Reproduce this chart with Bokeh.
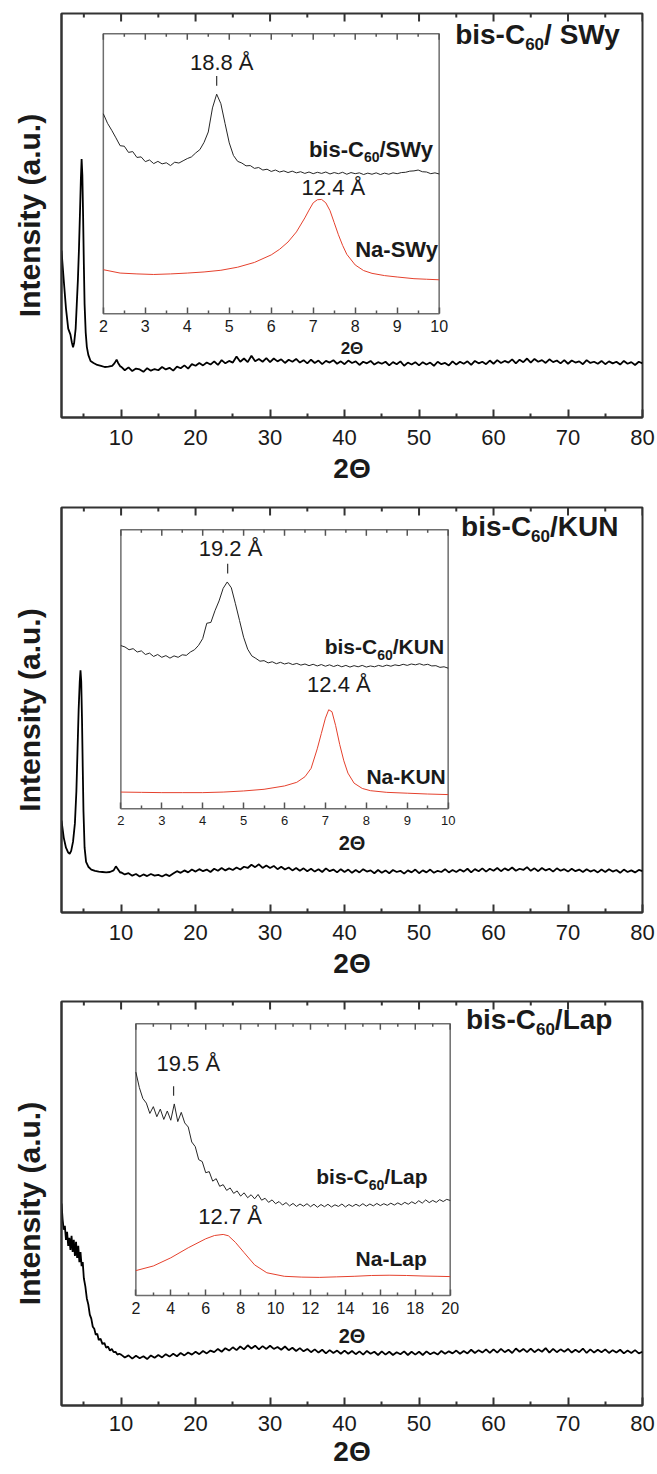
import numpy as np
from bokeh.plotting import figure
from bokeh.models import Range1d, LinearAxis, FixedTicker, Label
from bokeh.layouts import column
from bokeh.embed import file_html
from bokeh.resources import INLINE

FONT = "Liberation Sans"
INK = "#1a1a1a"
FRAME = "#333333"
RED = "#e5412d"

# ---------------- data ----------------
MAIN_TICKS = [10, 20, 30, 40, 50, 60, 70, 80]
MAIN_MINOR = [5, 15, 25, 35, 45, 55, 65, 75]
BASE_X = np.round(np.arange(10.0, 80.001, 0.5), 2)

# panel 1 : bis-C60 / SWy (main pattern)
SWY_LOW_X = [2.0, 2.3, 2.6, 2.9, 3.2, 3.4, 3.55, 3.7, 3.9, 4.05, 4.2, 4.35, 4.5, 4.6, 4.7, 4.8, 4.9,
             5.0, 5.1, 5.25, 5.4, 5.6, 5.9, 6.3, 6.8, 7.3, 7.8, 8.3, 8.8, 9.1, 9.4, 9.6, 9.9]
SWY_LOW_Y = [41.3, 34.0, 27.0, 22.0, 20.5, 18.5, 17.4, 18.5, 22.0, 28.0, 34.0, 42.0, 52.0, 59.0, 64.0, 60.0, 50.0,
             38.0, 28.0, 21.0, 17.5, 15.5, 14.0, 13.5, 13.0, 12.8, 12.5, 12.6, 12.8, 13.4, 14.3, 13.5, 12.6]
SWY_BASE_Y = [12.6, 11.7, 12.4, 11.5, 12.1, 11.9, 11.3, 12.2, 11.6, 12.0,
              11.7, 12.5, 11.9, 12.3, 11.6, 12.6, 12.2, 12.9, 12.1, 13.2,
              12.8, 13.5, 12.9, 13.6, 13.1, 13.9, 13.0, 14.2, 13.4, 14.0,
              13.6, 15.1, 13.8, 14.6, 13.7, 15.3, 13.9, 14.5, 13.8, 14.7,
              13.7, 14.6, 13.9, 14.4, 13.5, 14.3, 13.8, 14.5, 13.6, 14.2,
              13.4, 14.3, 13.5, 14.1, 13.2, 14.0, 13.6, 14.2, 13.3, 13.9,
              13.2, 14.1, 13.5, 13.9, 13.0, 13.8, 13.4, 14.0, 13.1, 13.7,
              13.3, 13.8, 12.9, 13.7, 13.2, 13.9, 12.8, 13.6, 13.1, 13.7,
              12.9, 13.7, 13.1, 13.6, 12.8, 13.8, 13.2, 13.5, 12.9, 13.9,
              13.1, 13.8, 13.3, 13.9, 13.0, 14.0, 13.4, 13.8, 13.2, 14.1,
              13.3, 14.2, 13.5, 14.0, 13.6, 14.4, 13.4, 14.3, 13.7, 14.6,
              13.6, 14.5, 13.8, 14.2, 13.5, 14.4, 13.7, 14.1, 13.4, 14.2,
              13.3, 14.1, 13.6, 13.9, 13.2, 14.2, 13.5, 13.8, 13.3, 14.0,
              13.2, 13.9, 13.4, 13.8, 13.1, 14.0, 13.3, 13.7, 13.0, 13.8,
              13.4]

# panel 2 : bis-C60 / KUN
KUN_LOW_X = [2.0, 2.3, 2.6, 2.9, 3.1, 3.3, 3.55, 3.8, 4.0, 4.15, 4.3, 4.45, 4.55, 4.65, 4.75,
             4.85, 4.95, 5.1, 5.3, 5.6, 6.0, 6.5, 7.0, 7.5, 8.0, 8.5, 9.0, 9.3, 9.6, 9.9]
KUN_LOW_Y = [22.7, 18.5, 16.0, 14.8, 14.5, 15.2, 17.5, 22.0, 30.0, 40.0, 50.0, 57.0, 59.8, 57.0, 48.0,
             36.0, 25.0, 16.0, 12.5, 11.3, 10.6, 10.3, 10.1, 10.0, 9.9, 10.0, 10.4, 11.4, 10.6, 9.8]
KUN_BASE_Y = [9.9, 9.4, 9.7, 9.1, 9.5, 8.9, 9.4, 9.0, 9.5, 9.1,
              9.3, 8.9, 9.4, 9.0, 9.6, 10.2, 9.8, 10.4, 9.9, 10.6,
              10.1, 10.7, 10.2, 10.6, 10.0, 10.8, 10.3, 11.0, 10.4, 10.9,
              10.5, 11.1, 10.6, 11.3, 11.0, 11.8, 11.2, 11.9, 11.0, 11.6,
              11.0, 11.5, 10.7, 11.3, 10.6, 11.1, 10.4, 11.0, 10.3, 10.9,
              10.2, 10.8, 10.1, 10.7, 10.0, 10.9, 10.2, 10.6, 9.9, 10.7,
              10.0, 10.6, 9.8, 10.5, 9.9, 10.7, 10.1, 10.4, 9.7, 10.5,
              9.8, 10.4, 9.7, 10.5, 10.0, 10.3, 9.6, 10.4, 9.9, 10.6,
              9.7, 10.4, 9.9, 10.6, 9.8, 10.3, 10.0, 10.7, 9.9, 10.5,
              10.0, 10.6, 10.1, 10.8, 9.9, 10.7, 10.2, 10.9, 10.1, 10.8,
              10.3, 11.0, 10.2, 10.9, 10.4, 11.1, 10.3, 10.8, 10.5, 11.2,
              10.3, 10.9, 10.2, 11.0, 10.4, 10.8, 10.1, 10.9, 10.3, 10.7,
              10.1, 10.8, 10.2, 10.6, 10.0, 10.7, 10.1, 10.5, 9.9, 10.6,
              10.0, 10.7, 10.1, 10.5, 9.8, 10.6, 10.0, 10.4, 9.9, 10.5,
              10.2]

# panel 3 : bis-C60 / Lap
LAP_LOW_X = [2.0, 2.15, 2.3, 2.45, 2.6, 2.75, 2.9, 3.05, 3.2, 3.35, 3.5, 3.65, 3.8, 3.95, 4.1, 4.25,
             4.4, 4.55, 4.7, 4.85, 5.0, 5.2, 5.4, 5.6, 5.8, 6.0, 6.2, 6.4, 6.6, 6.8, 7.0, 7.25, 7.5,
             7.75, 8.0, 8.25, 8.5, 8.75, 9.0, 9.25, 9.5, 9.75]
LAP_LOW_Y = [50.0, 46.0, 43.5, 44.5, 41.0, 43.0, 39.5, 41.5, 38.5, 42.0, 38.0, 41.0, 37.0, 40.5, 36.5, 39.5,
             35.5, 38.0, 34.5, 35.5, 31.5, 29.5, 26.5, 25.0, 22.5, 21.5, 19.5, 19.0, 17.5, 17.8, 16.2, 16.5, 15.2,
             15.5, 14.3, 14.6, 13.6, 14.0, 13.2, 13.3, 12.6, 12.8]
LAP_BASE_Y = [12.6, 11.9, 12.4, 11.6, 12.3, 11.7, 12.2, 11.5, 12.4, 11.8,
              12.5, 11.9, 12.7, 12.1, 12.8, 12.2, 13.0, 12.4, 13.1, 12.6,
              13.3, 12.7, 13.5, 12.9, 13.6, 13.2, 14.0, 13.3, 14.2, 13.6,
              14.4, 13.7, 14.6, 13.9, 14.9, 14.1, 14.8, 13.9, 14.7, 14.0,
              14.8, 14.0, 14.5, 13.8, 14.6, 13.7, 14.3, 13.5, 14.2, 13.4,
              14.0, 13.2, 13.9, 13.1, 13.8, 12.9, 13.7, 13.0, 13.6, 12.8,
              13.6, 12.8, 13.5, 12.7, 13.4, 12.6, 13.5, 12.8, 13.3, 12.5,
              13.4, 12.6, 13.3, 12.5, 13.2, 12.7, 13.4, 12.5, 13.3, 12.6,
              13.3, 12.5, 13.4, 12.7, 13.2, 12.6, 13.5, 12.8, 13.4, 12.9,
              13.6, 12.8, 13.5, 12.9, 13.8, 13.0, 13.7, 13.1, 13.9, 13.0,
              13.9, 13.1, 14.0, 13.2, 13.8, 13.0, 14.1, 13.3, 14.0, 13.2,
              14.1, 13.2, 13.9, 13.3, 14.2, 13.1, 14.0, 13.2, 13.9, 13.3,
              14.0, 13.1, 13.8, 13.2, 14.1, 13.0, 13.9, 13.1, 13.8, 13.2,
              13.9, 13.0, 13.7, 13.1, 13.8, 12.9, 13.6, 13.0, 13.7, 12.9,
              13.3]

# insets (low-angle region)
INSET_X_10 = np.round(np.arange(2.0, 10.001, 0.1), 2)
INSET_X_20 = np.round(np.arange(2.0, 20.001, 0.2), 2)

SWY_BIS_Y = [71.4, 68.0, 65.5, 62.8, 60.0, 59.8, 57.6, 57.9, 55.8, 56.0,
             54.3, 54.9, 53.6, 54.4, 53.5, 53.9, 52.9, 54.1, 53.8, 54.6,
             55.4, 56.0, 57.4, 58.6, 61.2, 64.9, 73.5, 78.4, 75.0, 67.9,
             61.0, 56.5, 54.4, 53.8, 52.8, 52.9, 51.9, 52.2, 51.3, 51.6,
             50.8, 51.3, 50.6, 51.0, 50.4, 50.9, 50.3, 50.7, 50.1, 50.6,
             50.0, 50.5, 50.1, 50.6, 49.9, 50.4, 50.0, 50.5, 49.8, 50.4,
             50.0, 50.3, 49.7, 50.2, 49.8, 50.3, 49.7, 50.2, 49.8, 50.3,
             50.0, 50.4, 50.5, 50.9, 51.0, 51.3, 50.7, 50.6, 50.0, 50.3,
             49.9]
SWY_NA_X = [2.0, 2.4, 2.8, 3.2, 3.6, 4.0, 4.4, 4.8, 5.2, 5.6, 6.0, 6.2, 6.4, 6.6, 6.8, 6.9, 7.0, 7.1,
            7.2, 7.3, 7.4, 7.5, 7.6, 7.7, 7.8, 8.0, 8.2, 8.4, 8.7, 9.0, 9.4, 9.7, 10.0]
SWY_NA_Y = [15.7, 14.5, 14.2, 14.0, 14.2, 14.5, 14.9, 15.5, 16.6, 18.3, 21.0, 23.0, 25.6, 29.2, 34.2, 37.0, 39.6, 40.7,
            40.8, 39.6, 36.8, 32.5, 28.2, 24.4, 21.2, 17.4, 15.4, 14.4, 13.6, 13.1, 12.5, 12.3, 12.1]

KUN_BIS_Y = [58.5, 58.0, 57.0, 57.4, 56.2, 56.6, 55.3, 55.8, 54.6, 55.3,
             54.3, 54.9, 54.0, 54.8, 54.3, 55.2, 55.0, 56.2, 57.0, 58.6,
             61.0, 66.5, 66.8, 71.0, 74.5, 79.0, 81.3, 79.2, 73.5, 67.5,
             61.5, 57.2, 54.8, 53.9, 52.9, 53.1, 52.3, 52.7, 52.0, 52.5,
             51.9, 52.3, 51.7, 52.1, 51.5, 51.9, 51.3, 51.8, 51.2, 51.7,
             51.1, 51.6, 51.0, 51.5, 50.9, 51.4, 50.8, 51.3, 50.9, 51.4,
             50.8, 51.2, 50.9, 51.4, 51.0, 51.5, 51.1, 51.6, 51.3, 51.8,
             51.4, 51.9, 51.6, 52.0, 51.5, 51.8, 51.2, 51.3, 50.7, 50.9,
             50.4]
KUN_NA_X = [2.0, 2.5, 3.0, 3.5, 4.0, 4.5, 5.0, 5.5, 6.0, 6.3, 6.5, 6.65, 6.8, 6.9, 7.0, 7.08, 7.16, 7.25,
            7.35, 7.45, 7.55, 7.7, 7.9, 8.1, 8.5, 9.0, 9.5, 10.0]
KUN_NA_Y = [6.0, 5.9, 5.8, 5.8, 5.8, 6.0, 6.4, 7.0, 8.2, 9.5, 11.5, 14.5, 21.5, 27.0, 32.5, 35.5, 34.8, 29.8,
            23.0, 17.2, 12.8, 9.2, 7.3, 6.5, 5.9, 5.6, 5.3, 5.1]

LAP_BIS_Y = [82.2, 76.5, 72.5, 70.8, 67.0, 69.5, 65.8, 68.6, 64.8, 67.9,
             64.5, 70.5, 64.0, 67.4, 63.5, 62.0, 56.5, 54.8, 50.0, 49.3,
             45.2, 45.6, 42.1, 43.0, 40.2, 40.8, 38.7, 39.6, 37.6, 38.5,
             36.6, 37.8, 36.0, 37.1, 35.6, 37.2, 35.1, 35.8, 34.3, 35.2,
             33.8, 34.6, 33.3, 34.2, 33.0, 33.9, 32.8, 33.7, 32.9, 33.8,
             32.7, 33.6, 32.5, 33.5, 32.7, 33.6, 32.6, 33.4, 32.8, 33.7,
             32.6, 33.5, 32.8, 33.6, 32.9, 33.8, 32.9, 33.7, 33.0, 33.9,
             33.1, 33.8, 33.2, 34.0, 33.3, 34.1, 33.4, 34.3, 33.6, 34.5,
             33.8, 34.9, 34.0, 35.2, 34.2, 35.0, 34.3, 35.3, 34.6, 35.4,
             35.0]
LAP_NA_X = [2.0, 3.0, 4.0, 5.0, 6.0, 6.5, 7.0, 7.3, 7.7, 8.2, 8.8, 9.5, 10.5, 11.5, 12.5, 13.5, 14.5,
            15.5, 16.5, 17.5, 18.5, 19.3, 20.0]
LAP_NA_Y = [9.2, 10.9, 13.9, 17.6, 20.9, 22.1, 22.5, 22.0, 19.6, 15.8, 11.3, 8.4, 7.1, 6.8, 6.7, 6.9, 7.1,
            7.4, 7.5, 7.4, 7.2, 7.1, 7.0]

TITLE_TAILS = ["/ SWy", "/KUN", "/Lap"]
BIS_TAILS = ["/SWy", "/KUN", "/Lap"]
NA_NAMES = ["Na-SWy", "Na-KUN", "Na-Lap"]
D_BIS = ["18.8 Å", "19.2 Å", "19.5 Å"]
D_NA = ["12.4 Å", "12.4 Å", "12.7 Å"]
PEAK_BIS = [4.70, 4.61, 4.16]
INSET_TICKS = [[2, 3, 4, 5, 6, 7, 8, 9, 10], [2, 3, 4, 5, 6, 7, 8, 9, 10],
               [2, 4, 6, 8, 10, 12, 14, 16, 18, 20]]
INSET_MINOR = [[2.5, 3.5, 4.5, 5.5, 6.5, 7.5, 8.5, 9.5], [2.5, 3.5, 4.5, 5.5, 6.5, 7.5, 8.5, 9.5],
               [3, 5, 7, 9, 11, 13, 15, 17, 19]]
INSET_XLIM = [(2, 10), (2, 10), (2, 20)]

# ---------------- helpers ----------------
WID = {'b': .611, 'i': .278, 's': .556, '-': .333, 'C': .722, '/': .278, 'S': .667, 'W': .944,
       'y': .556, ' ': .278, 'K': .722, 'U': .722, 'N': .722, 'L': .611, 'a': .556, 'p': .611,
       '6': .556, '0': .556}
LIFT = 0.33   # fraction of the font size the label anchor is raised by


def tw(s, size):
    return sum(WID.get(c, .6) for c in s) * size


def pieces_label(p, pieces, x, y, anchor="left", rn=("default", "default"), base=None):
    base = pieces[0][1] if base is None else base
    widths = [tw(t, s) for t, s, _ in pieces]
    off = 0 if anchor == "left" else -sum(widths)
    for (t, s, dy), w in zip(pieces, widths):
        p.add_layout(Label(x=x, y=y, x_offset=off, y_offset=dy + LIFT * base, text=t, text_font=FONT,
                           text_font_size=f"{s}px", text_font_style="bold", text_color=INK,
                           text_align="left", text_baseline="alphabetic",
                           x_range_name=rn[0], y_range_name=rn[1]))
        off += w


def style_ticks(ax, major_in, minor_in, color, width):
    ax.major_tick_in = major_in
    ax.major_tick_out = 0
    ax.minor_tick_in = minor_in
    ax.minor_tick_out = 0
    ax.major_tick_line_color = color
    ax.minor_tick_line_color = color
    ax.major_tick_line_width = width
    ax.minor_tick_line_width = width


def top_ticks(p, ticks, minor, ytop, unit_per_px, major_px, minor_px, color, width, **rn):
    p.segment(x0=ticks, y0=[ytop] * len(ticks), x1=ticks,
              y1=[ytop - major_px * unit_per_px] * len(ticks),
              line_color=color, line_width=width, **rn)
    p.segment(x0=minor, y0=[ytop] * len(minor), x1=minor,
              y1=[ytop - minor_px * unit_per_px] * len(minor),
              line_color=color, line_width=width, **rn)


# layout per panel (pixel geometry measured on the reference)
CFG = [
    dict(h=490, t=13, b=73, l=61, r=13, box=(0.072, 0.650, 0.257, 0.950), tfs=16, afs=17, lsd=6, asd=4,
         mls=12, mas=5,
         title=(54.85, 92.6), bis=(9.86, 56.2), na=(9.98, 20.2), dbis=(4.82, 87.1), dna=(7.48, 42.5),
         lab=22),
    dict(h=495, t=17, b=73, l=61, r=13, box=(0.1022, 0.6655, 0.256, 0.945), tfs=13, afs=20, lsd=7, asd=4,
         mls=12, mas=5,
         title=(55.65, 93.1), bis=(9.9, 55.6), na=(9.94, 9.2), dbis=(4.68, 90.8), dna=(7.33, 41.8),
         lab=21),
    dict(h=489, t=16, b=69, l=60, r=15, box=(0.128, 0.669, 0.272, 0.945), tfs=16, afs=20, lsd=6, asd=8,
         mls=10, mas=2,
         title=(56.3, 93.3), bis=(18.7, 41.1), na=(18.66, 11.0), dbis=(5.0, 82.8), dna=(7.4, 26.6),
         lab=21),
]

MAIN = [(SWY_LOW_X, SWY_LOW_Y, SWY_BASE_Y), (KUN_LOW_X, KUN_LOW_Y, KUN_BASE_Y),
        (LAP_LOW_X, LAP_LOW_Y, LAP_BASE_Y)]
INSET = [(INSET_X_10, SWY_BIS_Y, SWY_NA_X, SWY_NA_Y), (INSET_X_10, KUN_BIS_Y, KUN_NA_X, KUN_NA_Y),
         (INSET_X_20, LAP_BIS_Y, LAP_NA_X, LAP_NA_Y)]


def panel(i):
    c = CFG[i]
    fx0, fx1, fy0, fy1 = c["box"]
    a, b = INSET_XLIM[i]
    span = (b - a) / (fx1 - fx0)
    sx = a - fx0 * span
    yspan = 100.0 / (fy1 - fy0)
    sy = -fy0 * yspan
    frame_h = c["h"] - c["t"] - c["b"]

    p = figure(width=657, height=c["h"], x_range=Range1d(2, 80), y_range=Range1d(0, 100),
               min_border_left=c["l"], min_border_right=c["r"], min_border_top=c["t"],
               min_border_bottom=c["b"], output_backend="svg", toolbar_location=None)
    p.extra_x_ranges = {"ix": Range1d(sx, sx + span)}
    p.extra_y_ranges = {"iy": Range1d(sy, sy + yspan)}
    p.xgrid.visible = False
    p.ygrid.visible = False
    p.outline_line_color = FRAME
    p.outline_line_width = 2
    p.background_fill_color = "white"
    p.border_fill_color = "white"

    ax = p.xaxis[0]
    ax.ticker = FixedTicker(ticks=MAIN_TICKS, minor_ticks=MAIN_MINOR)
    style_ticks(ax, 8, 4, FRAME, 2)
    ax.axis_line_color = FRAME
    ax.axis_line_width = 2
    ax.major_label_text_font = FONT
    ax.major_label_text_font_size = "22px"
    ax.major_label_text_color = INK
    ax.major_label_standoff = c["mls"]
    ax.axis_label = "2Θ"
    ax.axis_label_text_font = FONT
    ax.axis_label_text_font_size = "28px"
    ax.axis_label_text_font_style = "bold"
    ax.axis_label_text_color = INK
    ax.axis_label_standoff = c["mas"]

    ay = p.yaxis[0]
    ay.ticker = FixedTicker(ticks=[])
    ay.axis_line_color = FRAME
    ay.axis_line_width = 2
    ay.major_tick_line_color = None
    ay.minor_tick_line_color = None
    ay.axis_label = "Intensity (a.u.)"
    ay.axis_label_text_font = FONT
    ay.axis_label_text_font_size = "30px"
    ay.axis_label_text_font_style = "bold"
    ay.axis_label_text_color = INK
    ay.axis_label_standoff = 16

    # mirrored ticks on the top edge of the main frame
    top_ticks(p, MAIN_TICKS, MAIN_MINOR, 100, 100.0 / frame_h, 8, 4, FRAME, 2)

    lx, ly, by = MAIN[i]
    mx = list(lx) + list(BASE_X)
    my = list(ly) + list(by)
    p.line(mx, my, line_color="black", line_width=1.8)

    rn = dict(x_range_name="ix", y_range_name="iy")
    p.quad(left=[a], right=[b], bottom=[0], top=[100], fill_color="white",
           line_color="#6e6e6e", line_width=1.5, **rn)

    ix, iby, nx, ny = INSET[i]
    p.line(list(ix), iby, line_color="#262626", line_width=1.0, **rn)
    p.line(nx, ny, line_color=RED, line_width=1.0, **rn)

    ib = LinearAxis(fixed_location=0, ticker=FixedTicker(ticks=INSET_TICKS[i], minor_ticks=INSET_MINOR[i]),
                    axis_line_color=None, major_label_text_font=FONT,
                    major_label_text_font_size=f"{c['tfs']}px", major_label_text_color=INK,
                    major_label_standoff=c["lsd"], axis_label="2Θ", axis_label_text_font=FONT,
                    axis_label_text_font_size=f"{c['afs']}px", axis_label_text_font_style="bold",
                    axis_label_text_color=INK, axis_label_standoff=c["asd"], **rn)
    style_ticks(ib, 6, 3, "#555555", 1.5)
    p.add_layout(ib, "below")
    top_ticks(p, INSET_TICKS[i], INSET_MINOR[i], 100, yspan / frame_h, 6, 3, "#555555", 1.5, **rn)

    # peak marker for the intercalated sample, derived from the data
    xs = np.asarray(ix)
    ys = np.asarray(iby)
    near = np.abs(xs - PEAK_BIS[i]) <= 0.15
    ytop = ys[near].max()
    p.segment(x0=[PEAK_BIS[i]], y0=[ytop + 3], x1=[PEAK_BIS[i]], y1=[ytop + 6.5],
              line_color="#333333", line_width=1.2, **rn)

    for txt, (tx, ty) in ((D_BIS[i], c["dbis"]), (D_NA[i], c["dna"])):
        p.add_layout(Label(x=tx, y=ty, y_offset=LIFT * 22, text=txt, text_font=FONT,
                           text_font_size="22px", text_color=INK, text_align="center",
                           text_baseline="alphabetic", x_range_name="ix", y_range_name="iy"))

    L = c["lab"]
    pieces_label(p, [("bis-C", L, 0), ("60", 14, -8), (BIS_TAILS[i], L, 0)],
                 c["bis"][0], c["bis"][1], anchor="right", rn=("ix", "iy"))
    pieces_label(p, [(NA_NAMES[i], L, 0)], c["na"][0], c["na"][1], anchor="right", rn=("ix", "iy"))

    pieces_label(p, [("bis-C", 28, 0), ("60", 17, -10), (TITLE_TAILS[i], 28, 0)],
                 c["title"][0], c["title"][1], anchor="left")
    return p


layout = column(panel(0), panel(1), panel(2), spacing=0)
open("out.html", "w").write(file_html(layout, INLINE))
